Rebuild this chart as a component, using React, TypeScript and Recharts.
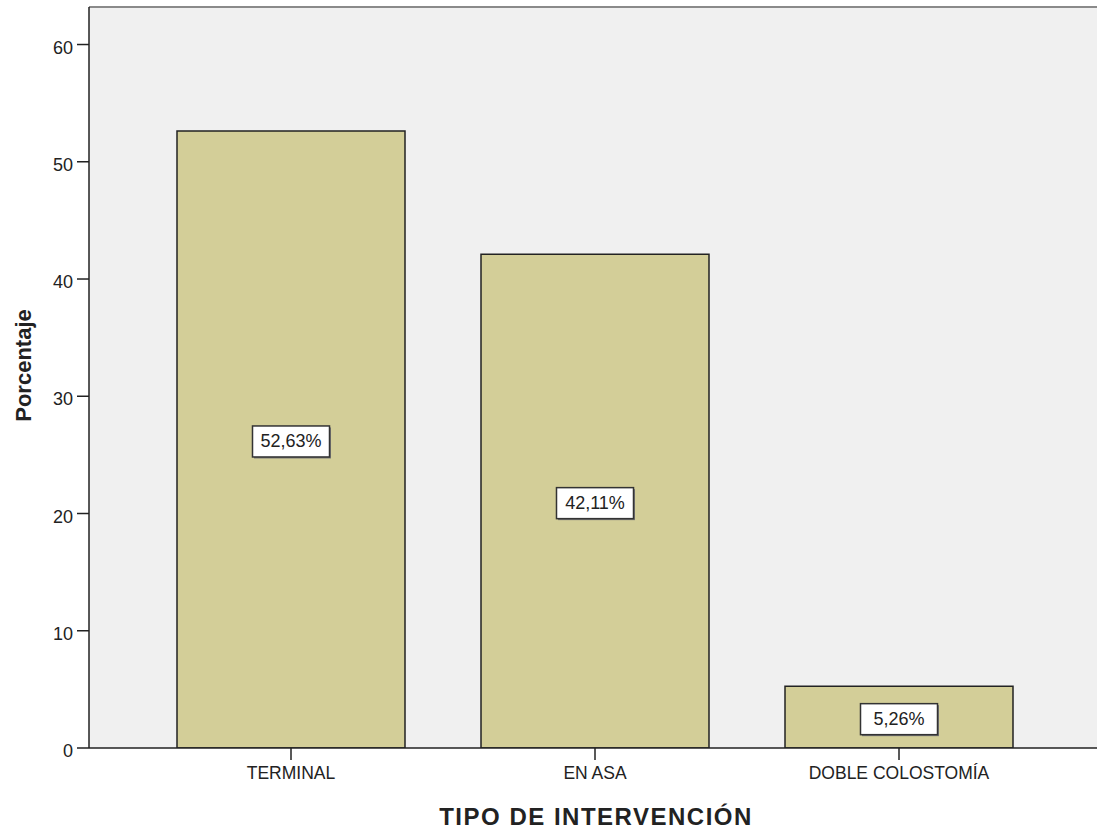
import React from "react";
import { BarChart, Bar, XAxis, YAxis, CartesianGrid, ReferenceLine, LabelList } from "recharts";

const categories = ["TERMINAL", "EN ASA", "DOBLE COLOSTOMÍA"];
const percentages = [52.63, 42.11, 5.26];
const yTicks = [0, 10, 20, 30, 40, 50, 60];
const yMax = 63.2;

const data = categories.map((name, i) => ({ name, value: percentages[i] }));

const FONT = "'Liberation Sans', Arial, sans-serif";
const INK = "#222";

const fmt = (v: number) => v.toFixed(2).replace(".", ",") + "%";

function YTick(props: any) {
  const { x, y, payload } = props;
  return (
    <text x={x - 2} y={y + 3} textAnchor="end" dominantBaseline="central" fontSize={18} fontFamily={FONT} fill={INK}>
      {payload.value}
    </text>
  );
}

function XTick(props: any) {
  const { x, y, payload } = props;
  return (
    <text x={x} y={y + 17} textAnchor="middle" fontSize={17.5} fontFamily={FONT} fill={INK}>
      {payload.value}
    </text>
  );
}

function ValueBox(props: any) {
  const { x, y, width, height, value } = props;
  const cx = x + width / 2;
  const cy = y + height / 2 + 2;
  const w = 77;
  const h = 31;
  return (
    <g>
      <rect x={cx - w / 2 + 1.5} y={cy - h / 2 + 1.5} width={w} height={h} fill="#777" />
      <rect x={cx - w / 2} y={cy - h / 2} width={w} height={h} fill="#fff" stroke="#333" strokeWidth={1.5} />
      <text x={cx} y={cy} textAnchor="middle" dominantBaseline="central" fontSize={18} fontFamily={FONT} fill={INK}>
        {fmt(value)}
      </text>
    </g>
  );
}

export default function App() {
  // plot runs past the right edge, so the wrapper clips it
  return (
    <div style={{ position: "absolute", left: 0, top: 0, width: 1097, height: 830, overflow: "hidden", background: "#fff" }}>
      <BarChart width={1110} height={830} data={data} margin={{ top: 7, right: 0, bottom: 0, left: 0 }}>
        <CartesianGrid fill="#f0f0f0" horizontal={false} vertical={false} />
        <ReferenceLine y={yMax} stroke="#8a8a8a" strokeWidth={2} />
        <XAxis
          dataKey="name"
          height={82}
          padding={{ left: 50, right: 59 }}
          tickSize={12}
          stroke={INK}
          strokeWidth={1.5}
          tickLine={{ stroke: INK, strokeWidth: 1.5 }}
          tick={<XTick />}
          label={{
            content: (p: any) => {
              const vb = p.viewBox;
              return (
                <text x={596} y={vb.y + 77} textAnchor="middle" fontSize={24} fontWeight="bold" letterSpacing={1.5} fontFamily={FONT} fill={INK}>
                  TIPO DE INTERVENCIÓN
                </text>
              );
            },
          }}
        />
        <YAxis
          width={89}
          domain={[0, yMax]}
          ticks={yTicks}
          allowDataOverflow
          tickSize={12}
          stroke={INK}
          strokeWidth={1.5}
          tickLine={{ stroke: INK, strokeWidth: 1.5 }}
          tick={<YTick />}
          label={{
            content: (p: any) => {
              const vb = p.viewBox;
              const cx = vb.x + 23;
              const cy = vb.y + vb.height / 2 - 12;
              return (
                <text x={cx} y={cy} transform={`rotate(-90 ${cx} ${cy})`} textAnchor="middle" dominantBaseline="central" fontSize={22} fontWeight="bold" fontFamily={FONT} fill={INK}>
                  Porcentaje
                </text>
              );
            },
          }}
        />
        <Bar dataKey="value" fill="#d3ce98" stroke="#222" strokeWidth={1.5} barSize={228} isAnimationActive={false}>
          <LabelList dataKey="value" content={<ValueBox />} />
        </Bar>
      </BarChart>
    </div>
  );
}
